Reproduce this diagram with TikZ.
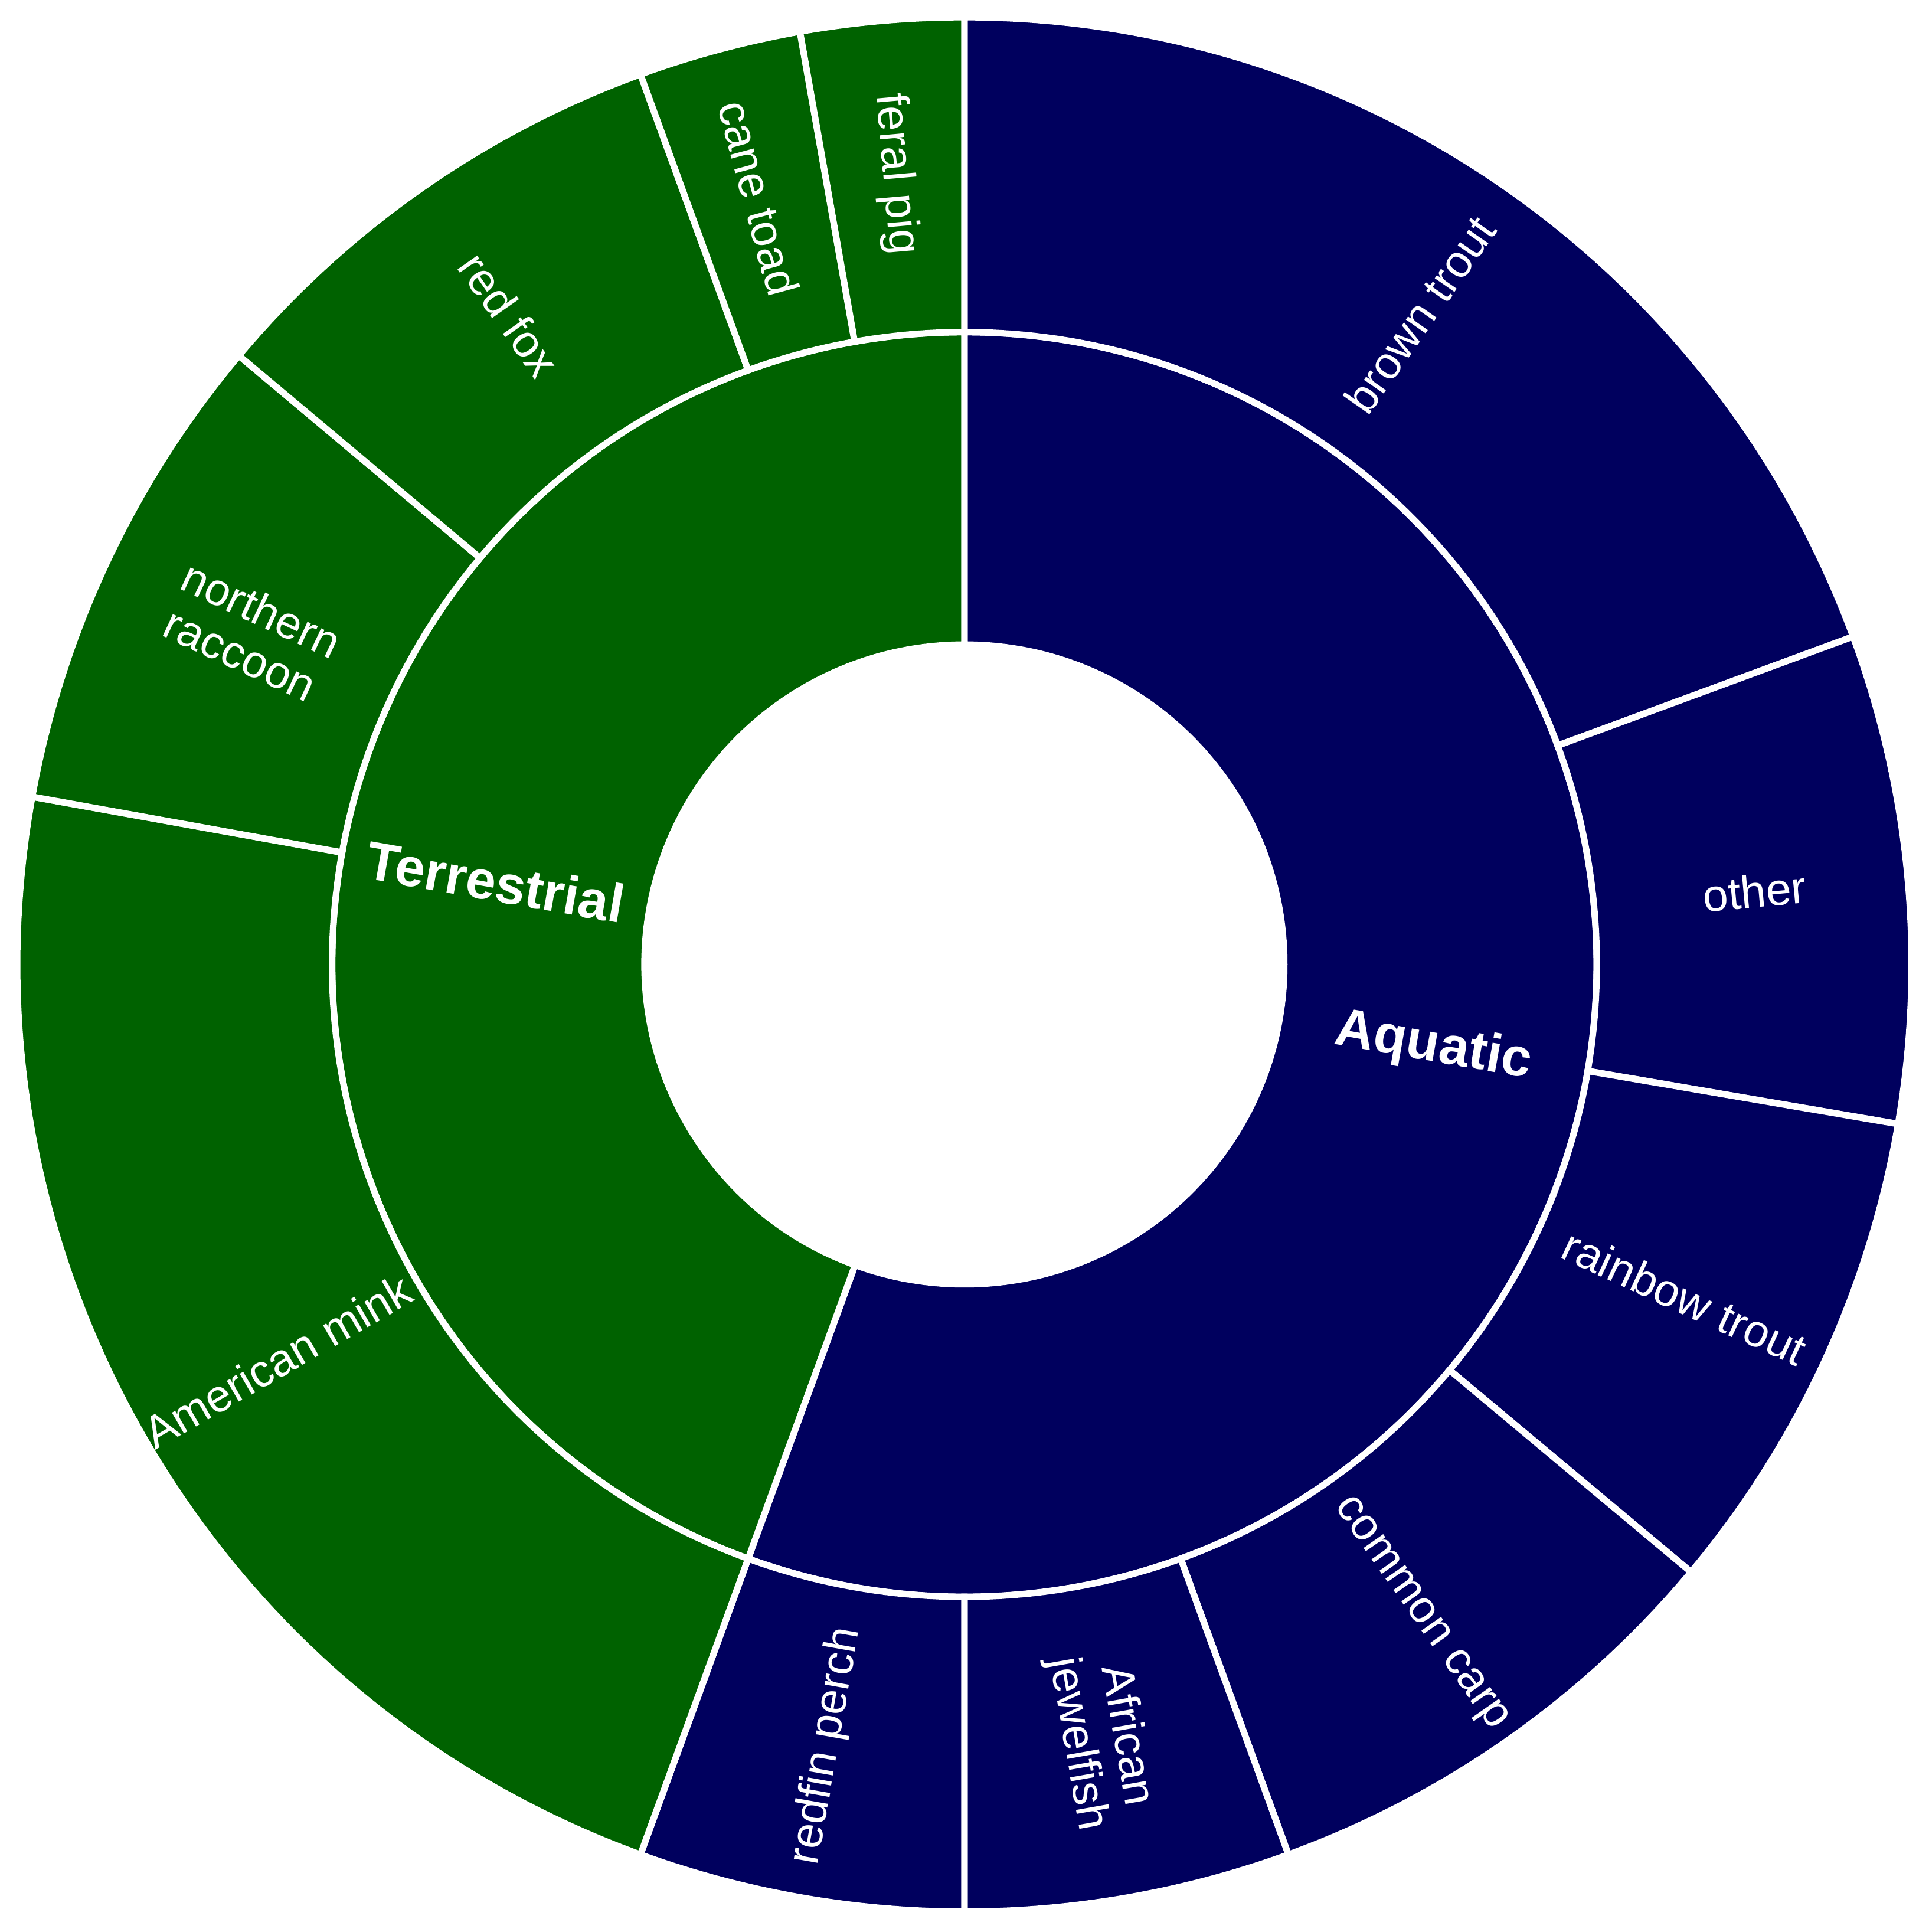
\documentclass[tikz,border=0pt]{standalone}
\usepackage{fontspec}
\setmainfont{Liberation Sans}
\definecolor{terr}{RGB}{0,98,0}
\definecolor{aqua}{RGB}{0,0,94}
\newcommand{\sect}[5]{% color, compass a1, compass a2, r1, r2
  \filldraw[fill=#1,sector] ({90-(#2)}:#4) arc ({90-(#2)}:{90-(#3)}:#4) -- ({90-(#3)}:#5) arc ({90-(#3)}:{90-(#2)}:#5) -- cycle;}
\begin{document}
\begin{tikzpicture}[sector/.style={draw=white,line width=1.5pt,line join=miter},
  lab/.style={text=white,font=\fontsize{10.5}{11.5}\selectfont,align=center},
  big/.style={text=white,font=\fontsize{12.5}{14}\selectfont\bfseries}]
\useasboundingbox (-7.84,-7.865) rectangle (7.84,7.84);
\sect{aqua}{0}{200}{2.6}{5.14}
\sect{terr}{200}{360}{2.6}{5.14}
\sect{aqua}{0}{69.75}{5.14}{7.7}
\sect{aqua}{69.75}{99.7}{5.14}{7.7}
\sect{aqua}{99.7}{129.9}{5.14}{7.7}
\sect{aqua}{129.9}{160}{5.14}{7.7}
\sect{aqua}{160}{180}{5.14}{7.7}
\sect{aqua}{180}{200}{5.14}{7.7}
\sect{terr}{200}{280.2}{5.14}{7.7}
\sect{terr}{280.2}{310}{5.14}{7.7}
\sect{terr}{310}{340}{5.14}{7.7}
\sect{terr}{340}{350}{5.14}{7.7}
\sect{terr}{350}{360}{5.14}{7.7}
\node[big,rotate=-10] (aq) at (-10:3.87) {Aquatic};
\node[big,rotate=-10] (te) at (170:3.87) {Terrestrial};
\node[lab,rotate=55] (l1) at (55:6.45) {brown trout};
\node[lab,rotate=5.3] (l2) at (5.3:6.45) {other};
\node[lab,rotate=-24.8] (l3) at (-24.8:6.45) {rainbow trout};
\node[lab,rotate=-55] (l4) at (-55:6.45) {common carp};
\node[lab,rotate=-80] (l5) at (-80:6.4) {African\\jewelfish};
\node[lab,rotate=80] (l6) at (-100:6.45) {redfin perch};
\node[lab,rotate=30] (l7) at (-150:6.45) {American mink};
\node[lab,rotate=-25] (l8) at (155:6.4) {northern\\raccoon};
\node[lab,rotate=-55] (l9) at (125:6.45) {red fox};
\node[lab,rotate=-75] (l10) at (105:6.45) {cane toad};
\node[lab,rotate=-85] (l11) at (95:6.45) {feral pig};
\end{tikzpicture}
\end{document}
